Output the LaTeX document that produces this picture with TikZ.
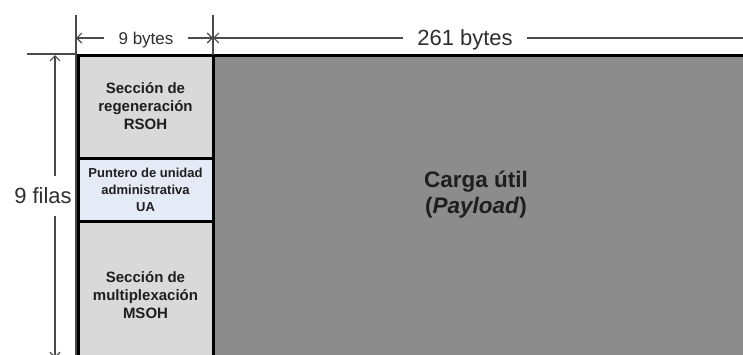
\documentclass[tikz,border=0pt]{standalone}
\usepackage{fontspec}
\setmainfont{Liberation Sans}
\usetikzlibrary{arrows.meta,positioning}
\definecolor{secgray}{HTML}{D9D9D9}
\definecolor{ptrblue}{HTML}{E4EAF6}
\definecolor{loadgray}{HTML}{8C8C8C}
\definecolor{dimgray}{HTML}{4A4A4A}
\definecolor{dimtext}{HTML}{2E2E2E}
\definecolor{txtdark}{HTML}{1E1E1E}

\begin{document}
\begin{tikzpicture}[x=1pt, y=-1pt,
      frame/.style={draw=black, line width=3pt, outer sep=0pt, inner sep=0pt,
                 align=center, text=txtdark},
      secbox/.style={frame, fill=secgray, minimum width=135pt,
                 font=\fontsize{15}{18}\selectfont\bfseries},
      ptrbox/.style={secbox, fill=ptrblue, font=\fontsize{13}{17}\selectfont\bfseries},
      loadbox/.style={frame, fill=loadgray, minimum width=547pt, minimum height=315pt},
      dim/.style={draw=dimgray, line width=1.1pt},
      a/.style={dim, -{Straight Barb[length=5pt,width=10pt]}},
      dimlbl/.style={text=dimtext, inner xsep=14pt, inner ysep=0pt, text depth=0pt}
    ]
    \useasboundingbox (0,0) rectangle (743,354);
    \clip (0,0) rectangle (743,354);

    % trama
    \node[secbox, minimum height=103pt, anchor=north west] (rsoh) at (78,55)
      {Sección de\\ regeneración\\ RSOH};
    \node[ptrbox, below=0pt of rsoh, minimum height=63pt] (ua)
      {Puntero de unidad\\ administrativa\\ UA};
    \node[secbox, below=0pt of ua, minimum height=149pt] (msoh)
      {Sección de\\ multiplexación\\ MSOH};
    \node[loadbox, anchor=north west] (load) at (rsoh.north east) {};
    \node[align=center, text=txtdark, font=\fontsize{22.5}{26}\selectfont\bfseries]
      (loadtxt) at (476,195) {Carga útil\\ (\textit{Payload})};

    % cotas arriba
    \draw[dim] (76,15) -- (76,370);
    \draw[dim] (213,15) -- (rsoh.north east);
    \coordinate (c9l) at (76,38);
    \coordinate (c9r) at (213,38);
    \coordinate (c261r) at (760,38);
    \node[dimlbl, font=\fontsize{17}{20}\selectfont] (b9) at (146,38) {9 bytes};
    \node[dimlbl, font=\fontsize{22}{26}\selectfont] (b261) at (465,38) {261 bytes};
    \draw[a] (b9.west) -- (c9l);
    \draw[a] (b9.east) -- (c9r);
    \draw[a] (b261.west) -- (c9r);
    \draw[dim] (b261.east) -- (c261r);

    % cota izquierda
    \draw[dim] (27,54) -- (76,54);
    \coordinate (vtop) at (55,55);
    \coordinate (vbot) at (55,358);
    \node[dimlbl, inner ysep=12pt, font=\fontsize{22}{26}\selectfont] (rows) at (43,196) {9 filas};
    \draw[a] (rows.north -| vtop) -- (vtop);
    \draw[a] (rows.south -| vbot) -- (vbot);
  \end{tikzpicture}
\end{document}
